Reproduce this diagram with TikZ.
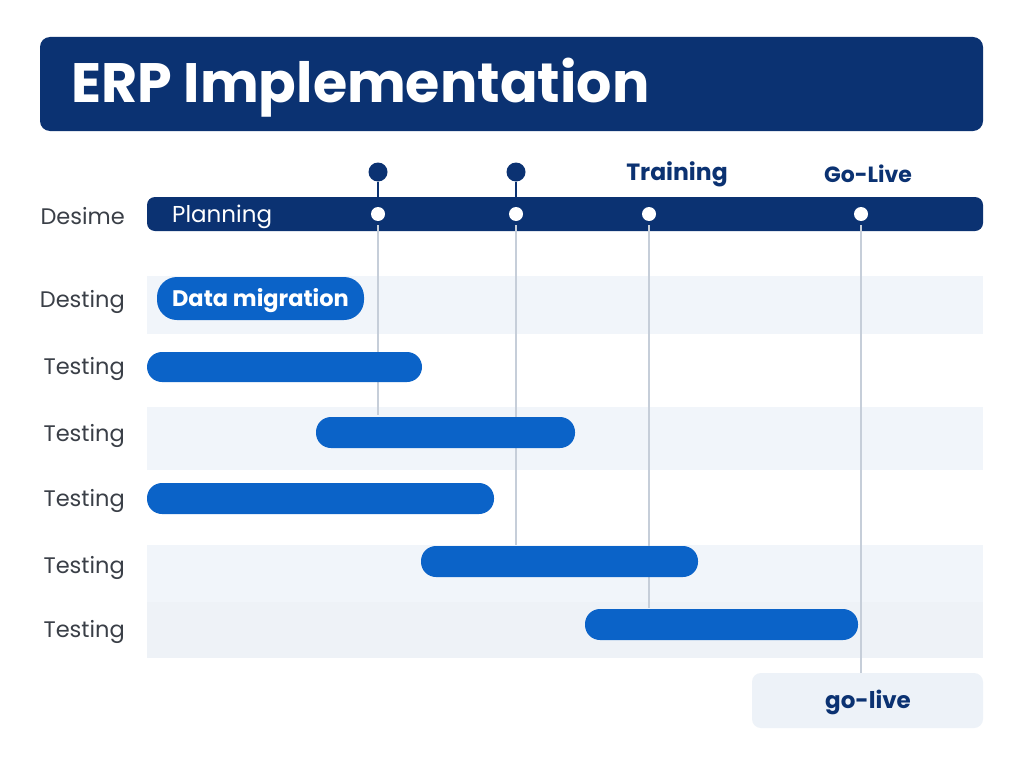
\documentclass[tikz,border=0pt]{standalone}
\usepackage{fontspec}
\setmainfont{Poppins}
\newfontfamily\popb{Poppins}[UprightFont=* Bold]
\definecolor{navy}{HTML}{0B3272}
\definecolor{barblue}{HTML}{0B63C8}
\definecolor{rowbg}{HTML}{F1F5FA}
\definecolor{rowbgb}{HTML}{EEF2F7}
\definecolor{gridgray}{HTML}{C6CED9}
\definecolor{labgray}{HTML}{3A3F47}
\definecolor{boxbg}{HTML}{EDF2F8}
\tikzset{
  bar/.style={fill=barblue, rounded corners=15pt},
  rowlab/.style={anchor=east, text=labgray, font=\fontsize{22.5}{26}\selectfont, inner sep=0pt},
  wdot/.style={circle, fill=white, minimum size=14pt, inner sep=0pt},
  ndot/.style={circle, fill=navy, minimum size=19pt, inner sep=0pt},
  gline/.style={draw=gridgray, line width=2pt},
  stem/.style={draw=navy, line width=2.2pt},
  mslab/.style={text=navy, font=\popb\fontsize{22}{26}\selectfont, inner sep=0pt}
}
\begin{document}
\begin{tikzpicture}[x=1pt,y=-1pt]
\useasboundingbox (0,0) rectangle (1024,768);
\fill[white] (0,0) rectangle (1024,768);
% title
\fill[navy, rounded corners=10pt] (40,37) rectangle (983,131);
\node[anchor=west, text=white, font=\popb\fontsize{55.5}{60}\selectfont, inner sep=0pt] (title) at (71,88) {ERP Implementation};
% row backgrounds
\fill[rowbg] (147,276) rectangle (983,334);
\fill[rowbg] (147,407) rectangle (983,470);
\fill[rowbg] (147,545) rectangle (983,602);
\fill[rowbgb] (147,602) rectangle (983,658);
% grid line ends
\coordinate (e1) at (378,415);
\coordinate (e2) at (516,545);
\coordinate (e3) at (649,608);
\coordinate (e4) at (861,673);
% timeline bar
\fill[navy, rounded corners=8pt] (147,197) rectangle (983,231);
\node[anchor=west, text=white, font=\fontsize{23}{26}\selectfont, inner sep=0pt] (plan) at (172,217) {Planning};
\node[wdot] (m1) at (378,214) {};
\node[wdot] (m2) at (516,214) {};
\node[wdot] (m3) at (649,214) {};
\node[wdot] (m4) at (861,214) {};
\draw[gline] (m1.south) ++(0,4) -- (e1);
\draw[gline] (m2.south) ++(0,4) -- (e2);
\draw[gline] (m3.south) ++(0,4) -- (e3);
\draw[gline] (m4.south) ++(0,4) -- (e4);
\node[ndot] (t1) at (378,172) {};
\node[ndot] (t2) at (516,172) {};
\draw[stem] (t1) -- (m1.north);
\draw[stem] (t2) -- (m2.north);
\node[mslab, font=\popb\fontsize{23.5}{26}\selectfont] (train) at (677,174) {Training};
\node[mslab] (golive) at (868,174) {Go-Live};
% row labels
\node[rowlab] (l0) at (125,216) {Desime};
\node[rowlab] (l1) at (125,302) {Desting};
\node[rowlab] (l2) at (125,369) {Testing};
\node[rowlab] (l3) at (125,436) {Testing};
\node[rowlab] (l4) at (125,501) {Testing};
\node[rowlab] (l5) at (125,568) {Testing};
\node[rowlab] (l6) at (125,632) {Testing};
% bars
\fill[barblue, rounded corners=20pt] (157,277) rectangle (364,320);
\node[text=white, font=\popb\fontsize{22.5}{25}\selectfont, inner sep=0pt] (dm) at (260.5,301) {Data migration};
\fill[bar] (147,352) rectangle (422,382);
\fill[bar] (316,417) rectangle (575,448);
\fill[bar] (147,483) rectangle (494,514);
\fill[bar] (421,546) rectangle (698,577);
\fill[bar] (585,609) rectangle (858,640);
% go-live box
\fill[boxbg, rounded corners=9pt] (752,673) rectangle (983,728);
\node[text=navy, font=\popb\fontsize{23}{26}\selectfont, inner sep=0pt] (gl) at (868,702) {go-live};
\end{tikzpicture}
\end{document}
